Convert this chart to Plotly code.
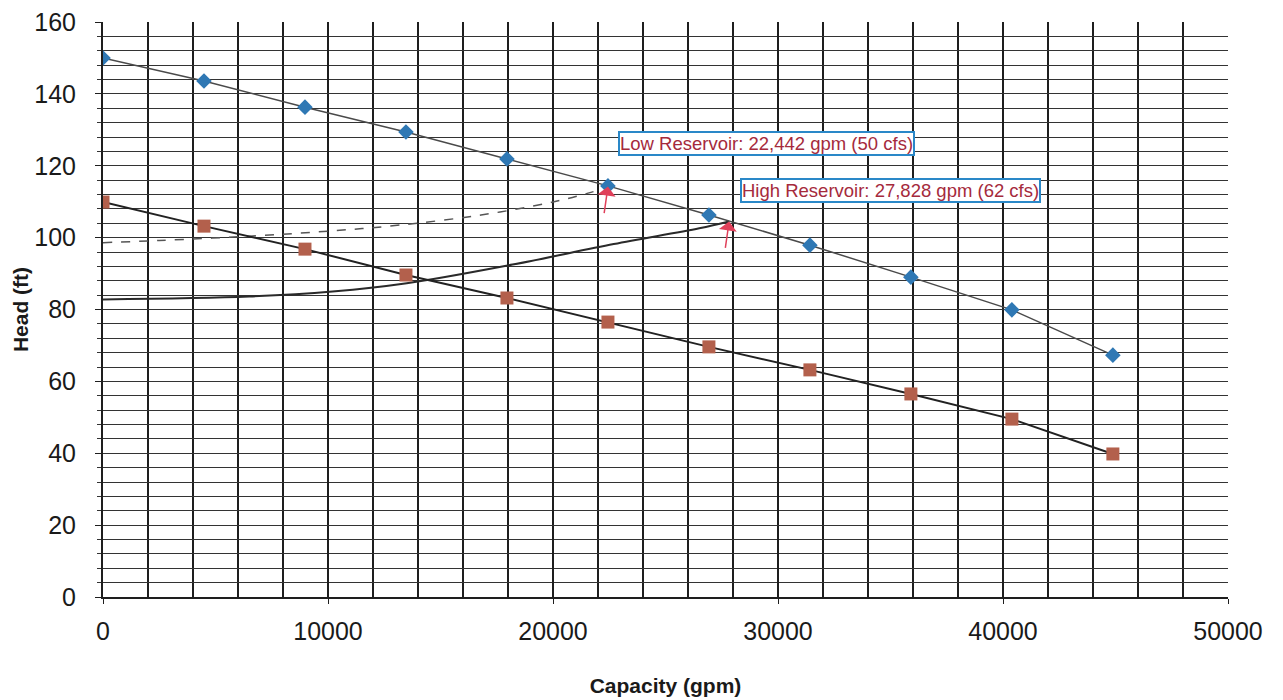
import plotly.graph_objects as go

# Pump curve (upper, blue diamonds) and lower pump curve (red squares)
capacity_gpm = [0, 4488, 8977, 13465, 17953, 22442, 26930, 31418, 35906, 40395, 44883]
head_blue = [150.0, 143.6, 136.3, 129.4, 121.9, 114.4, 106.3, 97.9, 89.0, 79.9, 67.3]
head_red = [109.9, 103.2, 96.8, 89.6, 83.2, 76.5, 69.6, 63.2, 56.5, 49.5, 39.8]

# System curves
low_sys_x = [0, 2500, 6500, 10000, 13200, 16800, 20000, 21800]
low_sys_y = [98.6, 99.2, 100.4, 101.8, 103.5, 106.3, 109.9, 112.8]
high_sys_x = [0, 6500, 10200, 13500, 18200, 22700, 26500, 27828]
high_sys_y = [82.8, 83.6, 85.0, 87.3, 92.5, 98.2, 102.6, 104.5]

# Operating points and labels
op_x = [22442, 27828]
op_y = [114.2, 104.5]
op_labels = ["Low Reservoir: 22,442 gpm (50 cfs)", "High Reservoir: 27,828 gpm (62 cfs)"]
label_x = [29470, 35020]
label_y = [126.3, 113.2]

x_ticks = [0, 10000, 20000, 30000, 40000, 50000]
y_ticks = [0, 20, 40, 60, 80, 100, 120, 140, 160]

FONT = "Liberation Sans, Arial, sans-serif"

fig = go.Figure()

fig.add_trace(go.Scatter(x=low_sys_x, y=low_sys_y, mode="lines",
                         line=dict(color="#555555", width=1.5, dash="dash", shape="spline"),
                         showlegend=False, hoverinfo="skip"))
fig.add_trace(go.Scatter(x=high_sys_x, y=high_sys_y, mode="lines",
                         line=dict(color="#2a2a2a", width=2, shape="spline"),
                         showlegend=False, hoverinfo="skip"))
fig.add_trace(go.Scatter(x=capacity_gpm, y=head_blue, mode="lines+markers",
                         line=dict(color="#4a4a4a", width=1.5),
                         marker=dict(symbol="diamond", size=12, color="#2f78b4"),
                         showlegend=False))
fig.add_trace(go.Scatter(x=capacity_gpm, y=head_red, mode="lines+markers",
                         line=dict(color="#222222", width=2),
                         marker=dict(symbol="square", size=13, color="#b3604c"),
                         showlegend=False))

annotations = []
for px, py, t, lx, ly in zip(op_x, op_y, op_labels, label_x, label_y):
    annotations.append(dict(x=lx, y=ly, xref="x", yref="y", text=t, showarrow=False,
                            font=dict(family=FONT, size=18.5, color="#a52a3c"),
                            bgcolor="white", bordercolor="#2a88c8", borderwidth=2, borderpad=0))
    annotations.append(dict(x=px, y=py, xref="x", yref="y", text="", showarrow=True,
                            ax=-4, ay=28, arrowhead=1, arrowsize=2, arrowwidth=1.5,
                            arrowcolor="#e0405a"))

fig.update_layout(
    width=1283, height=700,
    margin=dict(l=103, r=55, t=22, b=103),
    paper_bgcolor="white", plot_bgcolor="white",
    font=dict(family=FONT, color="#1a1a1a"),
    annotations=annotations,
    xaxis=dict(range=[0, 50000], tickvals=x_ticks, ticktext=[str(v) for v in x_ticks],
               automargin=False,
               showgrid=True, gridcolor="#1e1e1e", gridwidth=2,
               minor=dict(dtick=2000, showgrid=True, gridcolor="#1e1e1e", gridwidth=2),
               showline=True, linecolor="#1e1e1e", linewidth=2, mirror=False,
               ticks="outside", ticklen=5, tickcolor="#1e1e1e", ticklabelstandoff=6,
               tickfont=dict(size=25, color="#1a1a1a"), zeroline=False,
               title=dict(text="<b>Capacity (gpm)</b>", font=dict(size=21, color="#1a1a1a"), standoff=34)),
    yaxis=dict(range=[0, 160], tickvals=y_ticks, ticktext=[str(v) for v in y_ticks],
               automargin=False,
               showgrid=True, gridcolor="#333333", gridwidth=1.2,
               minor=dict(dtick=4, showgrid=True, gridcolor="#333333", gridwidth=1.2,
                          ticks="outside", ticklen=4, tickcolor="#333"),
               showline=True, linecolor="#1e1e1e", linewidth=2,
               ticks="outside", ticklen=6, tickcolor="#1e1e1e", ticklabelstandoff=14,
               tickfont=dict(size=25, color="#1a1a1a"), zeroline=False,
               title=dict(text="<b>Head (ft)</b>", font=dict(size=21, color="#1a1a1a"), standoff=0)),
)

fig.write_html("out.html")
